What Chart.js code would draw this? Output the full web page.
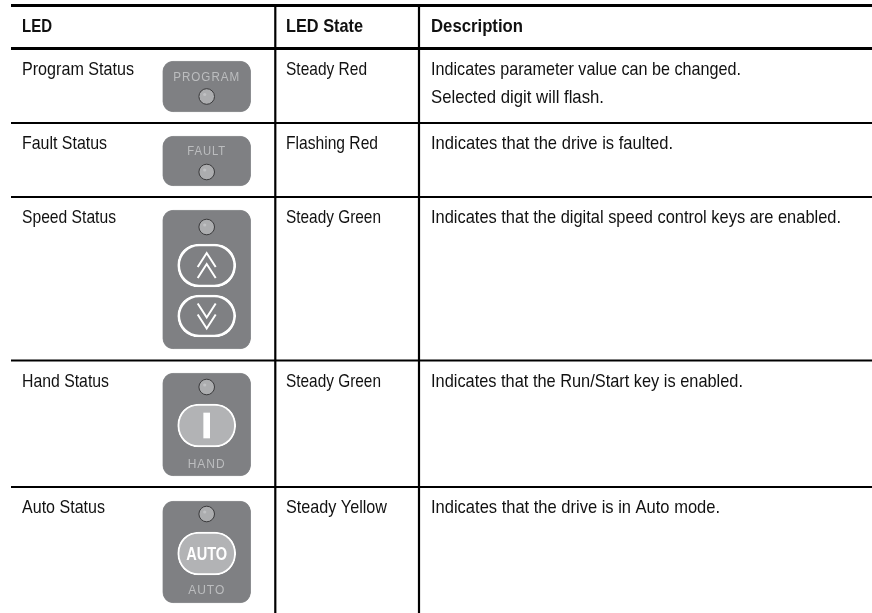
<!DOCTYPE html>
<html lang="en">
<head>
    <meta charset="UTF-8">
    <title>LED Status Table</title>
    <script src="https://cdn.jsdelivr.net/npm/chart.js"></script>
    <style>
        html, body { margin: 0; padding: 0; background: #fff; }
        canvas { display: block; }
    </style>
</head>
<body>
    <canvas id="ledTable" width="872" height="613"></canvas>
    <script>
        // table contents
        const headers = ['LED', 'LED State', 'Description'];
        const ledNames = ['Program Status', 'Fault Status', 'Speed Status', 'Hand Status', 'Auto Status'];
        const ledStates = ['Steady Red', 'Flashing Red', 'Steady Green', 'Steady Green', 'Steady Yellow'];
        const descriptions = [
            ['Indicates parameter value can be changed.', 'Selected digit will flash.'],
            ['Indicates that the drive is faulted.'],
            ['Indicates that the digital speed control keys are enabled.'],
            ['Indicates that the Run/Start key is enabled.'],
            ['Indicates that the drive is in Auto mode.']
        ];
        const panelCaptions = ['PROGRAM', 'FAULT', '', 'HAND', 'AUTO'];

        // layout, in page pixels (the scales below map 1:1)
        const rowRules = [5.5, 48.5, 123, 197, 360.5, 487];
        const colRules = [275.3, 419];
        const textX = [22, 286, 431];
        const headerWidths = [30, 77, 92];
        const nameWidths = [112, 85, 94, 87, 83];
        const stateWidths = [81, 92, 95, 95, 101];
        const descWidths = [[310, 173], [242], [410], [312], [289]];
        const panelX = 206.7;
        const panelSpans = [[61, 112], [136, 186], [210, 349], [373, 476], [501, 603]];
        const ledY = [96.5, 172, 227, 387, 514];
        const captionY = [80.7, 155, null, 468, 594];
        const captionWidths = [67, 39, 0, 43, 41];
        const outlineButtons = [[244, 287], [295, 337]];
        const filledButtons = [[404, 447], [532, 575]];

        // dir 1 points up, -1 points down (y axis is reversed)
        function chevron(y, dir) {
            return {
                type: 'line',
                data: [{x: panelX - 9, y: y + 7 * dir}, {x: panelX, y: y - 7 * dir}, {x: panelX + 9, y: y + 7 * dir}],
                borderColor: '#fff',
                borderWidth: 2,
                pointRadius: 0,
                order: 2
            };
        }

        const datasets = [
            // panels and keys
            {
                type: 'bar',
                data: panelSpans.map(s => ({x: panelX, y: s})),
                backgroundColor: '#7f8083',
                borderColor: '#9d9ea0',
                borderWidth: 0.5,
                borderSkipped: false,
                borderRadius: 11,
                barThickness: 88,
                grouped: false,
                order: 6
            },
            {
                type: 'bar',
                data: outlineButtons.map(s => ({x: panelX, y: s})),
                backgroundColor: 'rgba(0,0,0,0)',
                borderColor: '#fff',
                borderWidth: 2,
                borderSkipped: false,
                borderRadius: 21,
                barThickness: 58,
                grouped: false,
                order: 5
            },
            {
                type: 'bar',
                data: filledButtons.map(s => ({x: panelX, y: s})),
                backgroundColor: '#b2b3b5',
                borderColor: '#fff',
                borderWidth: 2,
                borderSkipped: false,
                borderRadius: 21,
                barThickness: 58,
                grouped: false,
                order: 5
            },
            {
                type: 'bar',
                data: [{x: panelX, y: [413, 438]}],
                backgroundColor: '#fff',
                borderWidth: 0,
                barThickness: 6,
                grouped: false,
                order: 4
            },
            chevron(260, 1), chevron(271, 1), chevron(321.5, -1), chevron(310.5, -1),
            // LEDs
            {
                type: 'scatter',
                data: ledY.map(y => ({x: panelX, y: y})),
                pointRadius: 7.8,
                pointBackgroundColor: '#acadaf',
                pointBorderColor: '#3a3a3c',
                pointBorderWidth: 1,
                order: 3
            },
            {
                type: 'scatter',
                data: ledY.map(y => ({x: panelX - 2, y: y - 2})),
                pointRadius: 1.6,
                pointBackgroundColor: '#c0c1c3',
                pointBorderWidth: 0,
                order: 1
            }
        ];

        // table rules
        rowRules.forEach((y, i) => datasets.push({
            type: 'line',
            data: [{x: 11, y: y}, {x: 872, y: y}],
            borderColor: '#000',
            borderWidth: i < 2 ? 3 : 2,
            pointRadius: 0,
            order: 0
        }));
        colRules.forEach(x => datasets.push({
            type: 'line',
            data: [{x: x, y: rowRules[0]}, {x: x, y: 613}],
            borderColor: '#000',
            borderWidth: 2.2,
            pointRadius: 0,
            order: 0
        }));

        const FONT = '"Liberation Sans", sans-serif';

        // the last fillText argument squeezes the text, the source face is a condensed one
        const tableText = {
            id: 'tableText',
            afterDatasetsDraw(chart) {
                const c = chart.ctx;
                const sx = chart.scales.x, sy = chart.scales.y;
                c.save();
                c.textAlign = 'left';
                c.textBaseline = 'alphabetic';
                c.fillStyle = '#111';

                c.font = 'bold 19px ' + FONT;
                headers.forEach((h, i) => c.fillText(h, sx.getPixelForValue(textX[i]), sy.getPixelForValue(32), headerWidths[i]));

                c.font = '19px ' + FONT;
                ledNames.forEach((name, i) => {
                    const y = sy.getPixelForValue(rowRules[i + 1] + 26);
                    c.fillText(name, sx.getPixelForValue(textX[0]), y, nameWidths[i]);
                    c.fillText(ledStates[i], sx.getPixelForValue(textX[1]), y, stateWidths[i]);
                    descriptions[i].forEach((line, j) => c.fillText(line, sx.getPixelForValue(textX[2]), y + j * 28, descWidths[i][j]));
                });

                // captions printed on the panels
                c.textAlign = 'center';
                c.fillStyle = '#bcbdbf';
                c.font = '12px ' + FONT;
                c.letterSpacing = '1px';
                panelCaptions.forEach((t, i) => {
                    if (t) c.fillText(t, sx.getPixelForValue(panelX), sy.getPixelForValue(captionY[i]), captionWidths[i]);
                });
                c.letterSpacing = '0px';
                c.fillStyle = '#fff';
                c.font = 'bold 18px ' + FONT;
                c.fillText('AUTO', sx.getPixelForValue(panelX), sy.getPixelForValue(560), 41);
                c.restore();
            }
        };

        new Chart(document.getElementById('ledTable').getContext('2d'), {
            type: 'bar',
            data: { datasets: datasets },
            options: {
                responsive: false,
                animation: false,
                events: [],
                layout: { padding: 0, autoPadding: false },
                plugins: { legend: { display: false }, tooltip: { enabled: false } },
                scales: {
                    x: { type: 'linear', min: 0, max: 872, offset: false, display: false },
                    y: { type: 'linear', min: 0, max: 613, reverse: true, display: false }
                }
            },
            plugins: [tableText]
        });
    </script>
</body>
</html>
